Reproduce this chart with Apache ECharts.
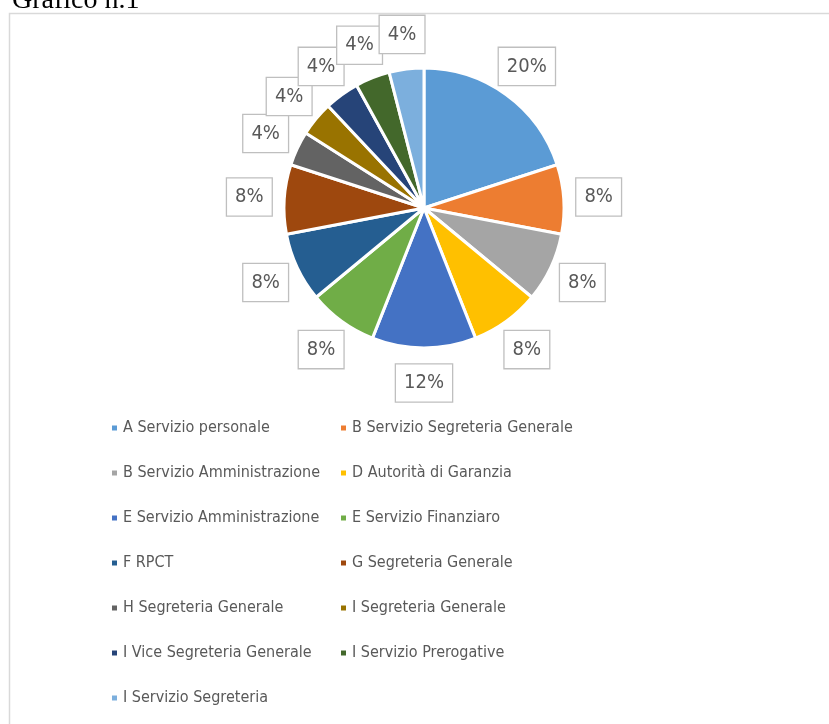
<!DOCTYPE html>
<html>
<head>
<meta charset="utf-8">
<script src="https://cdn.jsdelivr.net/npm/echarts@6/dist/echarts.min.js"></script>
<style>
  html, body { margin: 0; padding: 0; background: #fff; }
  #chart { width: 829px; height: 724px; }
</style>
</head>
<body>
<div id="chart"></div>
<script>
  // categorie e valori (percentuali)
  const categories = [
    'A Servizio personale',
    'B Servizio Segreteria Generale',
    'B Servizio Amministrazione',
    'D Autorità di Garanzia',
    'E Servizio Amministrazione',
    'E Servizio Finanziaro',
    'F RPCT',
    'G Segreteria Generale',
    'H Segreteria Generale',
    'I Segreteria Generale',
    'I Vice Segreteria Generale',
    'I Servizio Prerogative',
    'I Servizio Segreteria'
  ];
  const values = [20, 8, 8, 8, 12, 8, 8, 8, 4, 4, 4, 4, 4];
  const colors = [
    '#5B9BD5', '#ED7D31', '#A5A5A5', '#FFC000', '#4472C4', '#70AD47',
    '#255E91', '#9E480E', '#636363', '#997300', '#264478', '#43682B', '#7CAFDD'
  ];

  const font = '"Liberation Sans Narrow", "DejaVu Sans Condensed", "Open Sans", sans-serif';
  const pieCenter = [424, 208];
  const labelDist = 175; // distanza del centro etichetta dal centro torta
  const chart = echarts.init(document.getElementById('chart'));

  const leftCol = categories.filter((c, i) => i % 2 === 0);
  const rightCol = categories.filter((c, i) => i % 2 === 1);
  const legendBase = {
    orient: 'vertical',
    top: 413,
    itemGap: 25,
    itemWidth: 7,
    itemHeight: 7,
    icon: 'rect',
    selectedMode: false,
    textStyle: { fontFamily: font, fontSize: 16, lineHeight: 20, color: '#595959' }
  };

  chart.setOption({
    color: colors,
    animation: false,
    graphic: [
      {
        type: 'rect',
        shape: { x: 9.5, y: 13.5, width: 830, height: 720 },
        style: { fill: 'none', stroke: '#d9d9d9', lineWidth: 1.5 }
      },
      {
        type: 'text',
        left: 12,
        top: -13,
        style: { text: 'Grafico n.1', font: '28px "Liberation Serif", serif', fill: '#000' }
      }
    ],
    legend: [
      Object.assign({ left: 105, data: leftCol }, legendBase),
      Object.assign({ left: 334, data: rightCol }, legendBase)
    ],
    series: [
      {
        type: 'pie',
        center: pieCenter,
        radius: [0, 140],
        startAngle: 90,
        clockwise: true,
        avoidLabelOverlap: false,
        itemStyle: { borderColor: '#fff', borderWidth: 3 },
        label: {
          show: true,
          position: 'inside',
          formatter: '{c}%',
          fontFamily: font,
          fontSize: 20,
          color: '#595959',
          backgroundColor: '#fff',
          borderColor: '#bfbfbf',
          borderWidth: 1.3,
          padding: [9, 8, 8, 8]
        },
        labelLine: { show: false },
        // sposta ogni etichetta lungo la bisettrice della fetta, fuori dal bordo
        labelLayout: function (params) {
          const r = params.labelRect;
          const lx = r.x + r.width / 2 - pieCenter[0];
          const ly = r.y + r.height / 2 - pieCenter[1];
          const d = Math.sqrt(lx * lx + ly * ly) || 1;
          const k = labelDist / d - 1;
          return { dx: lx * k, dy: ly * k };
        },
        emphasis: { disabled: true },
        data: categories.map((name, i) => ({ name: name, value: values[i] }))
      }
    ]
  });
</script>
</body>
</html>
